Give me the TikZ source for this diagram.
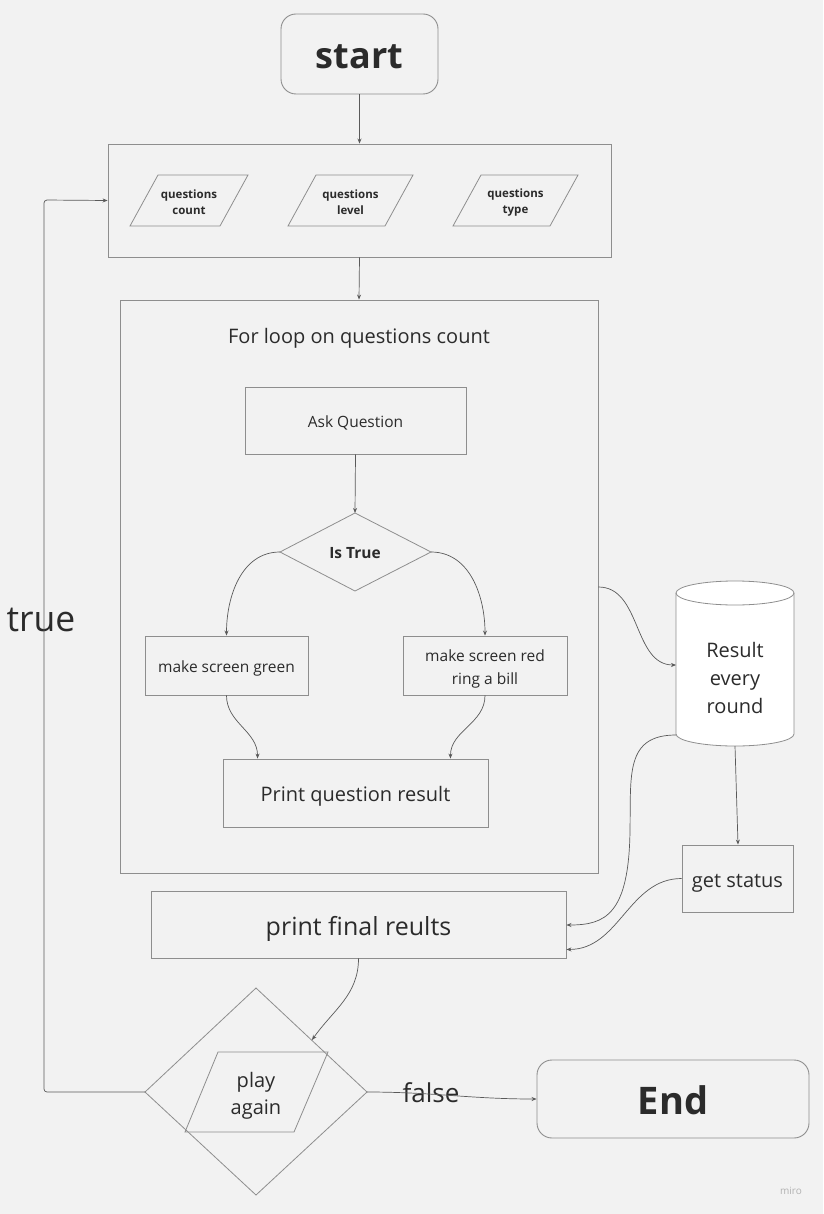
\documentclass[tikz,border=0pt]{standalone}
\usepackage{fontspec}
\setmainfont{Open Sans}
\usetikzlibrary{arrows.meta,calc}
\definecolor{bg}{HTML}{F2F2F2}
\definecolor{bord}{HTML}{8E8E8E}
\definecolor{conn}{HTML}{5A5A5A}
\definecolor{txt}{HTML}{2B2B2B}
\tikzset{
  box/.style={draw=bord, line width=0.9pt, inner sep=0pt},
  conn/.style={draw=conn, line width=0.7pt, -{Stealth[length=5pt,width=4pt]}},
  shp/.style={draw=bord, line width=0.8pt},
  lbl/.style={inner sep=0pt, text=txt, align=center},
  fs/.style={font=\fontsize{#1}{1.2*#1}\selectfont},
}
\begin{document}
\begin{tikzpicture}[x=1pt,y=-1pt]
\fill[bg] (0,0) rectangle (823,1214);
\useasboundingbox (0,0) rectangle (823,1214);

% start
\node[box, rounded corners=15pt, minimum width=157pt, minimum height=80pt] (start) at (359.5,54) {};
\node[lbl, font=\fontsize{36}{40}\selectfont\bfseries] (startT) at (359.5,57) {start};

% parameter box
\node[box, minimum width=503pt, minimum height=113pt] (params) at (359.5,200.5) {};
\draw[shp] (158,175) -- (248,175) -- (220,226) -- (130,226) -- cycle;
\draw[shp] (316,175) -- (413,175) -- (385,226) -- (288,226) -- cycle;
\draw[shp] (481,175) -- (578,175) -- (550,226) -- (453,226) -- cycle;
\node[lbl, font=\fontsize{11.5}{16}\selectfont\bfseries] (qcount) at (189,202.5) {questions\\count};
\node[lbl, font=\fontsize{11.5}{16}\selectfont\bfseries] (qlevel) at (350.5,202.5) {questions\\level};
\node[lbl, font=\fontsize{11.5}{16}\selectfont\bfseries] (qtype) at (515.5,202.5) {questions\\type};

% loop box
\node[box, minimum width=478pt, minimum height=573pt] (loop) at (359,586.5) {};
\node[lbl, font=\fontsize{20}{24}\selectfont] (looptitle) at (359,338.5) {For loop on questions count};

\node[box, minimum width=221pt, minimum height=67pt] (ask) at (355.5,420.5) {};
\node[lbl, font=\fontsize{15.5}{20}\selectfont] (askT) at (355.5,422.5) {Ask Question};
\path[shp] (355,513) -- (431,552) -- (355,591) -- (280,552) -- cycle;
\node[lbl, font=\fontsize{15.5}{20}\selectfont\bfseries] (istrue) at (355,553) {Is True};
\coordinate (istrueN) at (355,513);
\coordinate (istrueW) at (280,552);
\coordinate (istrueE) at (431,552);

\node[box, minimum width=163pt, minimum height=59pt] (green) at (226.5,665.5) {};
\node[lbl, font=\fontsize{15.5}{20}\selectfont] (greenT) at (226.5,668) {make screen green};
\node[box, minimum width=164pt, minimum height=59pt] (red) at (485,665.5) {};
\node[lbl, font=\fontsize{15.5}{23}\selectfont] (redT) at (485,668.5) {make screen red\\ring a bill};
\node[box, minimum width=265pt, minimum height=68pt] (printq) at (355.5,793) {};
\node[lbl, font=\fontsize{20}{24}\selectfont] (printqT) at (355.5,796) {Print question result};

% cylinder
\fill[white] (676,593) -- (676,734) arc[start angle=180, end angle=360, x radius=59pt, y radius=12pt] -- (794,593) arc[start angle=0, end angle=180, x radius=59pt, y radius=12pt] -- cycle;
\draw[shp] (676,593) -- (676,734) arc[start angle=180, end angle=360, x radius=59pt, y radius=12pt] -- (794,593);
\draw[shp] (735,593) ellipse[x radius=59pt, y radius=12pt];
\node[lbl, font=\fontsize{20}{28}\selectfont] (result) at (735,677.5) {Result\\every\\round};
\coordinate (cylW) at (676,665);
\coordinate (cylSW) at (676,735);
\coordinate (cylS) at (735,746);

\node[box, minimum width=111pt, minimum height=67pt] (status) at (737.5,878.5) {};
\node[lbl, font=\fontsize{20}{24}\selectfont] (statusT) at (737.5,883) {get status};
\node[box, minimum width=415pt, minimum height=67pt] (final) at (358.5,924.5) {};
\node[lbl, font=\fontsize{25}{29}\selectfont] (finalT) at (358.5,929) {print final reults};

% play again
\draw[shp] (145,1092) -- (256,988) -- (367,1092) -- (256,1195) -- cycle;
\draw[shp] (218,1052) -- (328,1052) -- (294,1132) -- (185,1132) -- cycle;
\node[lbl, font=\fontsize{20}{27}\selectfont] (play) at (256,1096) {play\\again};
\coordinate (playW) at (145,1092);
\coordinate (playE) at (367,1092);
\coordinate (playNE) at (312,1040);

\node[box, rounded corners=15pt, minimum width=272pt, minimum height=78pt] (end) at (673,1099) {};
\node[lbl, font=\fontsize{38}{42}\selectfont\bfseries] (endT) at (673,1100.5) {End};

\node[lbl, font=\fontsize{35.5}{40}\selectfont] (true) at (41,620) {true};
\node[lbl, font=\fontsize{26}{30}\selectfont] (false) at (431,1093) {false};
\node[lbl, font=\fontsize{10}{12}\selectfont, text=black!30] (miro) at (791,1191) {miro};

% connectors
\draw[conn] (start.south) -- (params.north);
\draw[conn] (params.south) -- (loop.north);
\draw[conn] (ask.south) -- (istrueN);
\draw[conn] (istrueW) to[out=180, in=90] (green.north);
\draw[conn] (istrueE) to[out=0, in=90] (red.north);
\draw[conn] (green.south) to[out=-90, in=90] ($(printq.north west)+(35,0)$);
\draw[conn] (red.south) to[out=-90, in=90] ($(printq.north east)+(-38,0)$);
\draw[conn] ($(loop.east)+(0,0.5)$) to[out=0, in=180] (cylW);
\draw[conn] (cylSW) .. controls (625,735) and (631,775) .. (630,830) .. controls (629,915) and (605,925) .. ($(final.east)+(0,0.5)$);
\draw[conn] (cylS) -- ($(status.north)+(0.5,0)$);
\draw[conn] (status.west) to[out=180, in=0] ($(final.south east)+(0,-9)$);
\draw[conn] (final.south) to[out=-90, in=55] (playNE);
\draw[conn, rounded corners=3pt] (playW) -| (44,200) -- (params.west);
\draw[conn] (playE) to[out=0, in=180] (end.west);
\end{tikzpicture}
\end{document}
